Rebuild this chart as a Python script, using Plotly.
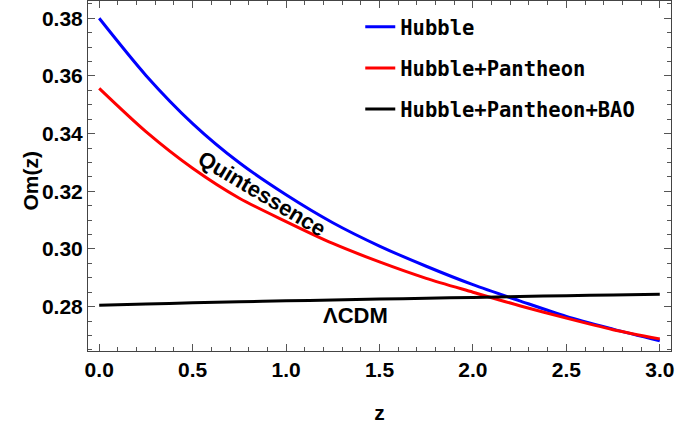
import plotly.graph_objects as go

z = [0.0, 0.25, 0.5, 0.75, 1.0, 1.25, 1.5, 1.75, 2.0, 2.25, 2.5, 2.75, 3.0]
om_hubble = [0.3800, 0.3602, 0.3435, 0.3299, 0.3188, 0.3091, 0.3010, 0.2940,
             0.2876, 0.2820, 0.2766, 0.2722, 0.2681]
om_hubble_pantheon = [0.3557, 0.3407, 0.3280, 0.3176, 0.3095, 0.3019, 0.2955,
                      0.2898, 0.2850, 0.2803, 0.2760, 0.2720, 0.2688]
om_hubble_pantheon_bao = [0.2805, 0.2809, 0.2813, 0.2817, 0.2820, 0.2823, 0.2826,
                          0.2829, 0.2832, 0.2835, 0.2838, 0.2840, 0.2843]

series_names = ["Hubble", "Hubble+Pantheon", "Hubble+Pantheon+BAO"]
series_values = [om_hubble, om_hubble_pantheon, om_hubble_pantheon_bao]
series_colors = ["#0000ff", "#ff0000", "#000000"]

LBL = "Liberation Sans"
fig = go.Figure()
for i, (name, vals, col) in enumerate(zip(series_names, series_values, series_colors)):
    fig.add_trace(go.Scatter(
        x=z, y=vals, mode="lines", name=name, legendgroup=name,
        line=dict(color=col, width=3, shape="spline", smoothing=0.8),
    ))

axis_common = dict(
    showline=True, linecolor="#444", linewidth=1, mirror="allticks",
    ticks="inside", ticklen=7, tickwidth=1, tickcolor="#555",
    showgrid=False, zeroline=False, automargin=False,
    tickfont=dict(family=LBL, size=21, color="#000", weight="bold"),
)

fig.update_xaxes(
    range=[-0.06, 3.06], dtick=0.5, tick0=0, tickformat=".1f",
    minor=dict(dtick=0.1, ticks="inside", ticklen=4, tickcolor="#555", showgrid=False),
    title=dict(text="z", font=dict(family=LBL, size=21, color="#000", weight="bold"), standoff=25),
    **axis_common,
)
fig.update_yaxes(
    range=[0.2646, 0.386], dtick=0.02, tick0=0.28, tickformat=".2f",
    minor=dict(dtick=0.005, ticks="inside", ticklen=4, tickcolor="#555", showgrid=False),
    **axis_common,
)

# y-axis title
fig.add_annotation(text="Om(z)", xref="paper", yref="paper", x=0, y=0.5,
                   xshift=-72, yshift=-5, textangle=-90, showarrow=False,
                   font=dict(family=LBL, size=21, color="#000", weight="bold"))

fig.add_annotation(x=0.87, y=0.3193, text="Quintessence", showarrow=False, textangle=31,
                   font=dict(family=LBL, size=22, color="#000", weight="bold"))
fig.add_annotation(x=1.37, y=0.2768, text="ΛCDM", showarrow=False,
                   font=dict(family=LBL, size=22, color="#000", weight="bold"))

fig.update_layout(
    width=676, height=434,
    margin=dict(l=88, r=5, t=1, b=83),
    plot_bgcolor="white", paper_bgcolor="white",
    showlegend=True,
    legend=dict(
        x=0.467, y=0.983, xanchor="left", yanchor="top",
        bgcolor="rgba(0,0,0,0)", borderwidth=0,
        font=dict(family="DejaVu Sans Mono", size=20.5, color="#000", weight="bold"),
        tracegroupgap=11.5,
    ),
)

fig.write_html("out.html", config={"displayModeBar": False},
               post_script="document.body.style.margin='0';document.body.style.overflow='hidden';")
